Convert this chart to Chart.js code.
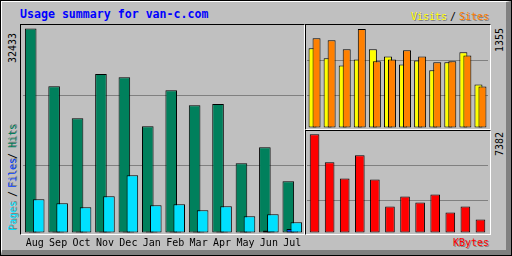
<!DOCTYPE html>
<html><head><meta charset="utf-8">
<script src="https://cdn.jsdelivr.net/npm/chart.js@4/dist/chart.umd.min.js"></script>
<style>
html,body{margin:0;padding:0;background:#c0c0c0;}
#wrap{position:absolute;left:0;top:0;width:512px;height:256px;background:#c0c0c0;overflow:hidden;}
.abs{position:absolute;box-sizing:border-box;}
#outer{left:0;top:0;width:512px;height:256px;border:1px solid #000;}
#bevel{left:1px;top:1px;width:510px;height:254px;border-top:1px solid #fff;border-left:1px solid #fff;border-right:5px solid #808080;border-bottom:5px solid #808080;}
.panel{position:absolute;box-sizing:border-box;border-top:1px solid #000;border-left:1px solid #000;border-right:1px solid #fff;border-bottom:1px solid #fff;}
.t{position:absolute;font-family:"DejaVu Sans Mono",monospace;font-size:10px;line-height:10px;white-space:pre;}
.up{transform-origin:0 0;transform:rotate(-90deg);}
canvas{position:absolute;}
</style>
</head><body>
<div id="wrap">
  <div class="abs" id="outer"></div>
  <div class="abs" id="bevel"></div>
  <div class="panel" style="left:20px;top:24px;width:285px;height:211px;"></div>
  <div class="panel" style="left:305px;top:24px;width:186px;height:106px;"></div>
  <div class="panel" style="left:305px;top:130px;width:186px;height:105px;"></div>
  <canvas id="cMain" width="281" height="231" style="left:23px;top:25px;"></canvas>
  <canvas id="cSites" width="181" height="105" style="left:307px;top:25px;"></canvas>
  <canvas id="cKb" width="181" height="105" style="left:307px;top:130px;"></canvas>

  <div class="t" style="left:20px;top:9px;font-weight:bold;font-size:11.6px;line-height:11.6px;color:#0000ff;">Usage summary for van-c.com</div>
  <div class="t" style="left:411px;top:12px;color:#ffff00;text-shadow:1px 1px 0 #808080;">Visits</div>
  <div class="t" style="left:450px;top:12px;color:#000;">/</div>
  <div class="t" style="left:459px;top:12px;color:#ff8000;text-shadow:1px 1px 0 #808080;">Sites</div>
  <div class="t" style="left:453px;top:238px;color:#ff0000;text-shadow:1px 1px 0 #808080;">KBytes</div>

  <div class="t up" id="lblHits" style="left:8px;top:63px;color:#000;"></div>
  <div class="t up" id="lblSites" style="left:495px;top:52px;color:#000;"></div>
  <div class="t up" id="lblKb" style="left:495px;top:156px;color:#000;"></div>

  <div class="t up" style="left:8px;top:231px;color:#00e0ff;text-shadow:1px 1px 0 #808080;">Pages</div>
  <div class="t up" style="left:8px;top:197px;color:#000;">/</div>
  <div class="t up" style="left:8px;top:188px;color:#0040ff;text-shadow:1px 1px 0 #808080;">Files</div>
  <div class="t up" style="left:8px;top:159px;color:#000;">/</div>
  <div class="t up" style="left:8px;top:148px;color:#00805c;text-shadow:1px 1px 0 #808080;">Hits</div>
</div>
<script>
const months = ['Aug','Sep','Oct','Nov','Dec','Jan','Feb','Mar','Apr','May','Jun','Jul'];
const hits   = [32433, 23245, 18157, 25201, 24676, 16885, 22609, 20224, 20431, 11002, 13546, 8140];
const files  = [60, 150, 150, 150, 150, 150, 150, 150, 150, 150, 320, 560];
const pages  = [5279, 4643, 4007, 5756, 9095, 4325, 4484, 3530, 4166, 2576, 2894, 1622];
const visits = [1089, 951, 854, 937, 1075, 978, 868, 923, 786, 896, 1034, 593];
const sites  = [1227, 1199, 1075, 1355, 910, 937, 1061, 978, 896, 910, 992, 565];
const kbytes = [7382, 5273, 4068, 5800, 3992, 1959, 2712, 2260, 2862, 1507, 1959, 979];

const maxHits = Math.max(...hits);
const maxSites = Math.max(...visits, ...sites);
const maxKb = Math.max(...kbytes);
document.getElementById('lblHits').textContent = String(maxHits);
document.getElementById('lblSites').textContent = String(maxSites);
document.getElementById('lblKb').textContent = String(maxKb);

const COL = {hits:'#00805c', files:'#0040ff', pages:'#00e0ff', visits:'#ffff00', sites:'#ff8000', kb:'#ff0000', grid:'#808080'};

// y-range so that zero sits zeroGap px above the area bottom and the max sits topGap px below its top
function yBounds(maxVal, areaPx, topGap, zeroGap){
  const per = maxVal / (areaPx - topGap - zeroGap);
  return {min: -zeroGap*per, max: maxVal + topGap*per};
}
function yScale(b){
  return {
    type:'linear', min:b.min, max:b.max, bounds:'data', display:true,
    ticks:{display:false}, border:{display:false},
    grid:{color:COL.grid, lineWidth:1, drawTicks:false},
    afterFit(s){ s.width = 0; },
    afterBuildTicks(s){ const r = b.max - b.min; s.ticks = [{value:b.min + r/3},{value:b.min + 2*r/3}]; }
  };
}
// draw datasets left-to-right so the right-hand bar of each group lies on top
const drawInOrder = {id:'drawInOrder', beforeDatasetsDraw(chart){
  chart.getSortedVisibleDatasetMetas().forEach(m => m.controller.draw());
  return false;
}};
const base = {
  responsive:false, animation:false, maintainAspectRatio:false,
  layout:{padding:0},
  plugins:{legend:{display:false}, tooltip:{enabled:false}, title:{display:false}},
  events:[]
};
const barStyle = {borderColor:'#000', borderWidth:1, borderSkipped:false};

new Chart(document.getElementById('cMain'), {
  type:'bar',
  data:{labels:months, datasets:[
    Object.assign({label:'Hits', data:hits, backgroundColor:COL.hits}, barStyle),
    Object.assign({label:'Files', data:files, backgroundColor:COL.files}, barStyle),
    Object.assign({label:'Pages', data:pages, backgroundColor:COL.pages}, barStyle)
  ]},
  options:Object.assign({}, base, {
    datasets:{bar:{categoryPercentage:0.5128, barPercentage:2.9}},
    scales:{
      x:{type:'category', display:true, grid:{display:false, drawTicks:false}, border:{display:false},
         ticks:{color:'#000', font:{family:'DejaVu Sans Mono', size:10}, padding:2, maxRotation:0, autoSkip:false},
         afterFit(s){ s.height = 21; }},
      y:yScale(yBounds(maxHits, 210, 3.5, 2.5))
    }
  }),
  plugins:[drawInOrder]
});

new Chart(document.getElementById('cSites'), {
  type:'bar',
  data:{labels:months, datasets:[
    Object.assign({label:'Visits', data:visits, backgroundColor:COL.visits}, barStyle),
    Object.assign({label:'Sites', data:sites, backgroundColor:COL.sites}, barStyle)
  ]},
  options:Object.assign({}, base, {
    datasets:{bar:{categoryPercentage:0.53, barPercentage:2.0}},
    scales:{
      x:{type:'category', display:false},
      y:yScale(yBounds(maxSites, 105, 4, 2.5))
    }
  }),
  plugins:[drawInOrder]
});

new Chart(document.getElementById('cKb'), {
  type:'bar',
  data:{labels:months, datasets:[
    Object.assign({label:'KBytes', data:kbytes, backgroundColor:COL.kb}, barStyle)
  ]},
  options:Object.assign({}, base, {
    datasets:{bar:{categoryPercentage:1, barPercentage:0.64}},
    scales:{
      x:{type:'category', display:false},
      y:yScale(yBounds(maxKb, 105, 4.3, 2.5))
    }
  }),
  plugins:[drawInOrder]
});
</script>
</body></html>
